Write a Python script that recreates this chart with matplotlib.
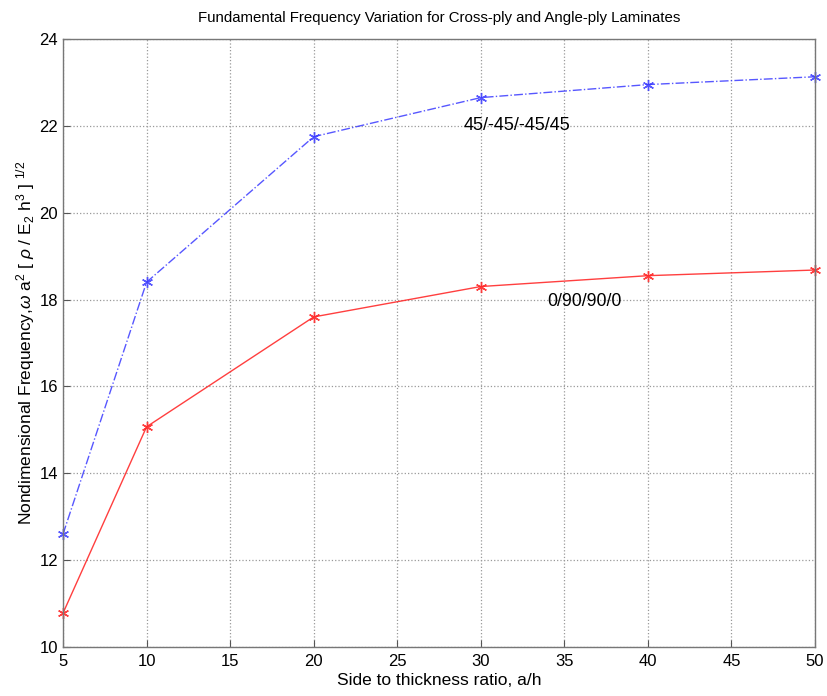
import numpy as np
import matplotlib
matplotlib.use('Agg')
import matplotlib.pyplot as plt

plt.rcParams['font.family'] = ['Liberation Sans', 'DejaVu Sans']
plt.rcParams['mathtext.fontset'] = 'custom'
plt.rcParams['mathtext.rm'] = 'Liberation Sans'
plt.rcParams['mathtext.it'] = 'Liberation Sans:italic'

# side to thickness ratio
ratio = [5, 10, 20, 30, 40, 50]
# nondimensional fundamental frequency
angle_ply = [12.6, 18.4, 21.75, 22.65, 22.95, 23.13]   # 45/-45/-45/45
cross_ply = [10.78, 15.07, 17.6, 18.3, 18.55, 18.68]   # 0/90/90/0

fig = plt.figure(figsize=(8.27, 6.96), dpi=100)
ax = fig.add_axes([0.0762, 0.0704, 0.9093, 0.8736])

star = (6, 2, 0)  # asterisk marker, like matlab '*'
ax.plot(ratio, angle_ply, color='#3a3aff', linestyle='-.', linewidth=1.0,
        marker=star, markersize=8, markeredgewidth=1.0, alpha=0.85, clip_on=False)
ax.plot(ratio, cross_ply, color='#ff2a2a', linestyle='-', linewidth=1.0,
        marker=star, markersize=8, markeredgewidth=1.0, alpha=0.9, clip_on=False)

ax.text(29.0, 22.0, '45/-45/-45/45', fontsize=13, va='center', ha='left')
ax.text(34.0, 17.95, '0/90/90/0', fontsize=12.8, va='center', ha='left')

ax.set_xlim(5, 50)
ax.set_ylim(10, 24)
ax.set_xticks(np.arange(5, 51, 5))
ax.set_yticks(np.arange(10, 25, 2))
ax.tick_params(direction='in', labelsize=12, length=5, color='#555555')
ax.tick_params(axis='x', pad=5)
ax.grid(True, linestyle=':', color='#999999', linewidth=0.9)
for s in ax.spines.values():
    s.set_color('#777777')
    s.set_linewidth(1.0)

ax.set_title('Fundamental Frequency Variation for Cross-ply and Angle-ply Laminates',
             fontsize=10.8, pad=12)
ax.set_xlabel('Side to thickness ratio, a/h', fontsize=12.5, labelpad=3)
ax.set_ylabel(r'Nondimensional Frequency,$\omega$ a$^2$ [ $\rho$ / E$_2$ h$^3$ ] $^{1/2}$',
              fontsize=12.5, labelpad=2)

plt.savefig('out.png', dpi=100)
